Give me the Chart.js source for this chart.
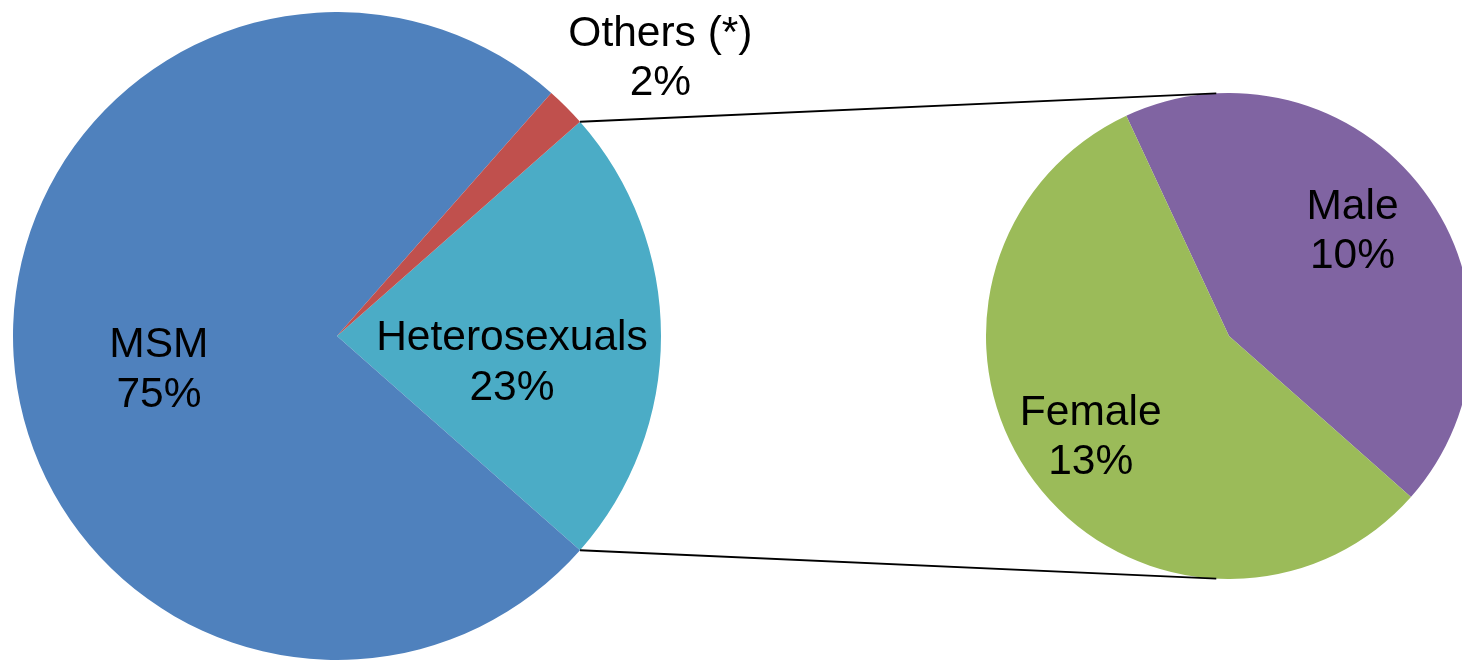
<!DOCTYPE html>
<html>
<head>
<meta charset="utf-8">
<script src="https://cdn.jsdelivr.net/npm/chart.js@4/dist/chart.umd.min.js"></script>
<style>
  html, body { margin: 0; padding: 0; background: #fff; overflow: hidden; }
  #wrap { position: relative; width: 1462px; height: 660px; overflow: hidden; }
  #wrap canvas { position: absolute; }
  #mainPie { left: 13px; top: 12px; }
  #subPie { left: 986px; top: 93px; }
  #links { left: 0; top: 0; pointer-events: none; }
</style>
</head>
<body>
<div id="wrap">
  <canvas id="mainPie" width="820" height="648"></canvas>
  <canvas id="subPie" width="486" height="486"></canvas>
  <canvas id="links" width="1462" height="660"></canvas>
</div>
<script>
// main pie (share of all cases)
const mainLabels = ['Heterosexuals', 'MSM', 'Others (*)'];
const mainValues = [23, 75, 2];
// breakdown of heterosexuals
const subLabels = ['Male', 'Female'];
const subValues = [10, 13];

const mainColors = ['#4BACC6', '#4F81BD', '#C0504D'];
const subColors = ['#8064A2', '#9BBB59'];

// where each label sits: fraction of radius along slice middle, plus nudge
const labelLayout = {
	'Heterosexuals': { f: 0.54, dx: 0, dy: 24 },
	'MSM': { f: 0.56, dx: 3, dy: 20 },
	'Others (*)': { f: 1.32, dx: 21, dy: 22 },
	'Male': { f: 0.67, dx: -7, dy: -10 },
	'Female': { f: 0.70, dx: -2, dy: -3 }
};

const grandTotal = mainValues.reduce((a, b) => a + b, 0);
const FONT = '42.5px "Liberation Sans", Arial, sans-serif';

const sliceLabels = {
	id: 'sliceLabels',
	afterDatasetsDraw(chart) {
		const ctx = chart.ctx;
		const meta = chart.getDatasetMeta(0);
		const values = chart.data.datasets[0].data;
		ctx.save();
		ctx.font = FONT;
		ctx.fillStyle = '#000';
		ctx.textAlign = 'center';
		ctx.textBaseline = 'alphabetic';
		meta.data.forEach((arc, i) => {
			const name = chart.data.labels[i];
			const lay = labelLayout[name];
			const mid = (arc.startAngle + arc.endAngle) / 2;
			const bx = arc.x + Math.cos(mid) * arc.outerRadius * lay.f + lay.dx;
			const by = arc.y + Math.sin(mid) * arc.outerRadius * lay.f + lay.dy;
			const pct = Math.round(values[i] / grandTotal * 100) + '%';
			ctx.fillText(name, bx, by - 10);
			ctx.fillText(pct, bx, by + 39.5);
		});
		ctx.restore();
	}
};

function pieOptions(rotation, padRight) {
	return {
		responsive: false,
		animation: false,
		rotation: rotation,
		layout: { padding: { left: 0, top: 0, bottom: 0, right: padRight } },
		plugins: { legend: { display: false }, tooltip: { enabled: false } }
	};
}

const mainChart = new Chart(document.getElementById('mainPie').getContext('2d'), {
	type: 'pie',
	data: {
		labels: mainLabels,
		datasets: [{ data: mainValues, backgroundColor: mainColors, borderWidth: 0 }]
	},
	// extra room on the right so the outside label is not cut off
	options: pieOptions(48.6, 172),
	plugins: [sliceLabels]
});

const subChart = new Chart(document.getElementById('subPie').getContext('2d'), {
	type: 'pie',
	data: {
		labels: subLabels,
		datasets: [{ data: subValues, backgroundColor: subColors, borderWidth: 0 }]
	},
	options: pieOptions(-25, 0),
	plugins: [sliceLabels]
});

// connector lines from the heterosexual slice to the breakdown pie
function drawLinks() {
	const ctx = document.getElementById('links').getContext('2d');
	const mc = document.getElementById('mainPie');
	const sc = document.getElementById('subPie');
	const arc = mainChart.getDatasetMeta(0).data[0];
	const sub = subChart.getDatasetMeta(0).data[0];
	const sx = sc.offsetLeft + sub.x, sy = sc.offsetTop + sub.y, sr = sub.outerRadius;
	const ends = [[arc.startAngle, -93], [arc.endAngle, 93]];
	ctx.strokeStyle = '#000';
	ctx.lineWidth = 1.8;
	ends.forEach(([a, deg]) => {
		const t = deg * Math.PI / 180;
		ctx.beginPath();
		ctx.moveTo(mc.offsetLeft + arc.x + Math.cos(a) * arc.outerRadius,
			mc.offsetTop + arc.y + Math.sin(a) * arc.outerRadius);
		ctx.lineTo(sx + Math.cos(t) * sr, sy + Math.sin(t) * sr);
		ctx.stroke();
	});
}
drawLinks();
</script>
</body>
</html>
